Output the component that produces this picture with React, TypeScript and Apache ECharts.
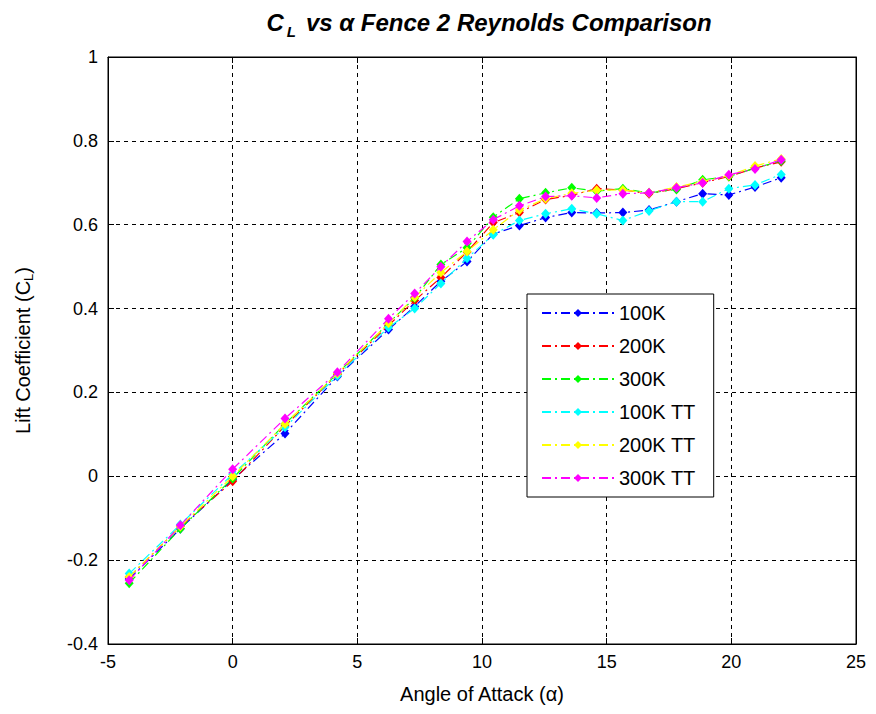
import React, { useEffect, useRef } from "react";
import * as echarts from "echarts";

const alpha = [-4.15, -2.1, 0, 2.1, 4.2, 6.25, 7.3, 8.35, 9.4, 10.45, 11.5, 12.55, 13.6, 14.6, 15.65, 16.7, 17.8, 18.85, 19.9, 20.95, 22.0];

const cl100K = [-0.245, -0.125, -0.008, 0.102, 0.238, 0.35, 0.405, 0.465, 0.512, 0.578, 0.598, 0.617, 0.629, 0.628, 0.629, 0.635, 0.655, 0.674, 0.671, 0.69, 0.712];
const cl200K = [-0.24, -0.12, -0.012, 0.12, 0.243, 0.36, 0.419, 0.474, 0.535, 0.605, 0.629, 0.66, 0.67, 0.686, 0.683, 0.674, 0.686, 0.7, 0.715, 0.735, 0.75];
const cl300K = [-0.255, -0.125, -0.005, 0.125, 0.245, 0.365, 0.425, 0.505, 0.545, 0.618, 0.662, 0.676, 0.688, 0.68, 0.686, 0.676, 0.684, 0.707, 0.715, 0.735, 0.752];
const cl100KTT = [-0.232, -0.115, 0.005, 0.117, 0.24, 0.355, 0.4, 0.46, 0.52, 0.576, 0.61, 0.626, 0.638, 0.626, 0.61, 0.633, 0.655, 0.655, 0.686, 0.695, 0.72];
const cl200KTT = [-0.24, -0.12, 0.0, 0.125, 0.245, 0.365, 0.427, 0.486, 0.536, 0.588, 0.635, 0.662, 0.675, 0.682, 0.683, 0.676, 0.69, 0.703, 0.717, 0.74, 0.757];
const cl300KTT = [-0.248, -0.117, 0.017, 0.138, 0.248, 0.376, 0.436, 0.5, 0.56, 0.612, 0.645, 0.667, 0.669, 0.664, 0.674, 0.676, 0.688, 0.7, 0.719, 0.733, 0.755];

const seriesNames = ["100K", "200K", "300K", "100K TT", "200K TT", "300K TT"];
const seriesValues = [cl100K, cl200K, cl300K, cl100KTT, cl200KTT, cl300KTT];
const seriesColors = ["#0000ff", "#ff0000", "#00ff00", "#00ffff", "#ffff00", "#ff00ff"];

const FONT = "'Liberation Sans', Arial, sans-serif";

export default function App() {
  const ref = useRef<HTMLDivElement>(null);
  useEffect(() => {
    if (!ref.current) return;
    const chart = echarts.init(ref.current, null, { renderer: "svg" });
    const axisCommon = {
      axisLine: { show: true, onZero: false, lineStyle: { color: "#000", width: 1 } },
      axisTick: { show: true, inside: true, length: 6, lineStyle: { color: "#000" } },
    };
    chart.setOption({
      animation: false,
      backgroundColor: "#fff",
      title: {
        text: "{b|C}{s|L}{b|vs α Fence 2 Reynolds Comparison}",
        left: 484,
        textAlign: "center",
        top: 1,
        textStyle: {
          rich: {
            b: { fontFamily: FONT, fontSize: 24, fontWeight: "bold", fontStyle: "italic", color: "#000", lineHeight: 28 },
            s: { fontFamily: FONT, fontSize: 15, fontWeight: "bold", fontStyle: "italic", color: "#000", padding: [18, 10, 0, 3] },
          },
        },
      },
      grid: { left: 108, right: 20, top: 57, bottom: 70, show: true, borderColor: "#000", borderWidth: 1, backgroundColor: "#fff" },
      legend: {
        left: 527,
        top: 294,
        orient: "vertical",
        data: seriesNames,
        backgroundColor: "#fff",
        borderColor: "#000",
        borderWidth: 1,
        borderRadius: 0,
        padding: [9, 18, 9, 14],
        itemWidth: 72,
        itemHeight: 10,
        itemGap: 13,
        textStyle: { fontFamily: FONT, fontSize: 20, color: "#000" },
      },
      xAxis: [
        {
          type: "value",
          min: -5,
          max: 25,
          interval: 5,
          position: "bottom",
          name: "Angle of Attack (α)",
          nameLocation: "middle",
          nameGap: 40,
          nameTextStyle: { fontFamily: FONT, fontSize: 20, color: "#000" },
          axisLabel: { fontFamily: FONT, fontSize: 18, color: "#000", margin: 9 },
          splitLine: { show: true, lineStyle: { color: "#000", type: [4, 4], width: 1 } },
          ...axisCommon,
        },
        {
          type: "value",
          min: -5,
          max: 25,
          interval: 5,
          position: "top",
          axisLabel: { show: false },
          splitLine: { show: false },
          ...axisCommon,
        },
      ],
      yAxis: [
        {
          type: "value",
          min: -0.4,
          max: 1,
          interval: 0.2,
          position: "left",
          name: "{n|Lift Coefficient (C}{s|L}{n|)}",
          nameLocation: "middle",
          nameGap: 73,
          nameTextStyle: {
            rich: {
              n: { fontFamily: FONT, fontSize: 20, color: "#000" },
              s: { fontFamily: FONT, fontSize: 13, color: "#000", padding: [11, 0, 0, 0] },
            },
          },
          axisLabel: { fontFamily: FONT, fontSize: 18, color: "#000", margin: 10 },
          splitLine: { show: true, lineStyle: { color: "#000", type: [4, 4], width: 1 } },
          ...axisCommon,
        },
        {
          type: "value",
          min: -0.4,
          max: 1,
          interval: 0.2,
          position: "right",
          axisLabel: { show: false },
          splitLine: { show: false },
          ...axisCommon,
        },
      ],
      series: seriesNames.map((name, i) => ({
        name,
        type: "line",
        xAxisIndex: 0,
        yAxisIndex: 0,
        data: alpha.map((a, j) => [a, seriesValues[i][j]]),
        symbol: "diamond",
        symbolSize: [9, 10],
        showSymbol: true,
        color: seriesColors[i],
        itemStyle: { color: seriesColors[i] },
        lineStyle: { color: seriesColors[i], width: 1.2, type: [9, 4, 2, 4] },
        z: 2 + i,
      })),
    });
    return () => chart.dispose();
  }, []);
  return <div ref={ref} style={{ position: "fixed", left: 0, top: 0, width: 876, height: 714 }} />;
}
